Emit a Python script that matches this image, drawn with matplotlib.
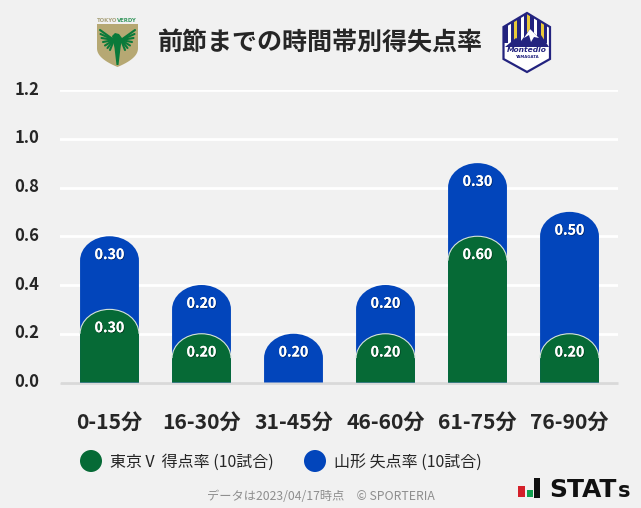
import numpy as np
import matplotlib
matplotlib.use('Agg')
from matplotlib import pyplot as plt
from matplotlib.path import Path
from matplotlib.patches import PathPatch, Polygon, Rectangle, Ellipse
import matplotlib.patheffects as pe

plt.rcParams['font.family'] = ['Noto Sans CJK JP', 'DejaVu Sans']

categories = ['0-15分', '16-30分', '31-45分', '46-60分', '61-75分', '76-90分']
scored = [0.30, 0.20, 0.00, 0.20, 0.60, 0.20]
conceded = [0.30, 0.20, 0.20, 0.20, 0.30, 0.50]
y_ticks = [0.0, 0.2, 0.4, 0.6, 0.8, 1.0, 1.2]
title = '前節までの時間帯別得失点率'
legend_labels = ['東京Ⅴ 得点率 (10試合)', '山形 失点率 (10試合)']
footer = 'データは2023/04/17時点　© SPORTERIA'

GREEN = '#066a36'
BLUE = '#0245bb'
BG = '#f1f1f1'
DARK = '#262626'

W, H = 641, 508
fig = plt.figure(figsize=(W / 100, H / 100), dpi=100, facecolor=BG)
ax = fig.add_axes([60 / W, 1 - 382.5 / H, 558 / W, 292.5 / H], facecolor=BG)
ax.set_xlim(-0.538, 5.527)
ax.set_ylim(0, 1.2)


def round_bar(x, top, color, edge=None, zorder=3):
    # bar with an elliptical cap, cap size in data units
    hw = 0.32
    cap = 0.1
    k = 0.5523
    verts = [(x - hw, 0), (x - hw, top - cap),
             (x - hw, top - cap + k * cap), (x - k * hw, top), (x, top),
             (x + k * hw, top), (x + hw, top - cap + k * cap), (x + hw, top - cap),
             (x + hw, 0), (x - hw, 0)]
    codes = [Path.MOVETO, Path.LINETO, Path.CURVE4, Path.CURVE4, Path.CURVE4,
             Path.CURVE4, Path.CURVE4, Path.CURVE4, Path.LINETO, Path.CLOSEPOLY]
    ax.add_patch(PathPatch(Path(verts, codes), fc=color, ec='none', zorder=zorder))
    if edge:
        ax.add_patch(PathPatch(Path(verts[1:8], codes[:1] + codes[2:8]), fc='none',
                               ec=edge, lw=0.8, zorder=zorder + 0.1))


shadow = [pe.withSimplePatchShadow(offset=(0.6, -0.6), shadow_rgbFace='#000000', alpha=0.45), pe.Normal()]
for i, (s, c) in enumerate(zip(scored, conceded)):
    round_bar(i, s + c, BLUE)
    ax.text(i, s + c - 0.077, f'{c:.2f}', color='white', fontsize=10.2, fontweight='bold',
            ha='center', va='center', zorder=6, path_effects=shadow)
    if s > 0:
        round_bar(i, s, GREEN, edge='#d5e3da', zorder=4)
        ax.text(i, s - 0.077, f'{s:.2f}', color='white', fontsize=10.2, fontweight='bold',
                ha='center', va='center', zorder=6, path_effects=shadow)

ax.set_yticks(y_ticks)
ax.set_yticklabels([])
ax.set_xticks(range(len(categories)))
ax.set_xticklabels(categories, fontsize=15.2, fontweight='bold', color=DARK)
ax.tick_params(axis='both', length=0)
ax.tick_params(axis='x', pad=21)
ax.grid(axis='y', color='white', lw=2, zorder=1)
ax.set_axisbelow(True)
for sp in ax.spines.values():
    sp.set_visible(False)
ax.axhline(0, color='#d9d9d9', lw=2, zorder=2, clip_on=False, solid_capstyle='butt')
# y labels sit left of the plot, slightly above their gridlines
for v in y_ticks:
    ax.annotate(f'{v:.1f}', (0, v), xycoords=ax.get_yaxis_transform(), xytext=(-33, 0.3),
                textcoords='offset points', fontsize=12, fontweight='bold', color=DARK,
                ha='left', va='center', annotation_clip=False)

# overlay in pixel coordinates for title, legend, logos
ov = fig.add_axes([0, 0, 1, 1], facecolor='none')
ov.set_xlim(0, W)
ov.set_ylim(H, 0)
ov.axis('off')

ov.text(320.5, 43.5, title, fontsize=18, fontweight='bold', color=DARK, ha='center', va='center')

# legend
ov.add_patch(Ellipse((91, 461), 22, 22, fc=GREEN, ec='none'))
ov.text(110, 462, legend_labels[0], fontsize=11.5, color=DARK, ha='left', va='center')
ov.add_patch(Ellipse((315, 461), 22, 22, fc=BLUE, ec='none'))
ov.text(334, 462, legend_labels[1], fontsize=11.5, color=DARK, ha='left', va='center')

ov.text(320.5, 497, footer, fontsize=8.8, color='#8e8e8e', ha='center', va='center')

# Verdy crest
EAGLE = '#0a7a3a'
ov.text(117, 20.5, 'TOKYO', fontsize=3.9, fontweight='bold', color='#a9a27c', ha='right', va='center', family='DejaVu Sans')
ov.text(117, 20.5, 'VERDY', fontsize=3.9, fontweight='bold', color='#3d9a63', ha='left', va='center', family='DejaVu Sans')
t = np.linspace(0, 1, 30)
right_side = [(138 - 20.5 * v ** 2.2, 48 + 19 * v) for v in t]
left_side = [(97 + 20.5 * v ** 2.2, 48 + 19 * v) for v in t[::-1]]
ov.add_patch(Polygon([(97, 24), (138, 24)] + right_side + left_side, fc='#b6a873', ec='none'))
# feathers fan out from the shoulders
feather_tips = [(17.5, 30), (17, 34), (16, 38), (14.5, 42), (12.5, 45.5), (10, 48), (7.5, 50)]
for dx, ty in feather_tips:
    for sgn in (-1, 1):
        ov.plot([117.5 + sgn * 3.5, 117.5 + sgn * dx], [40, ty], color=EAGLE, lw=1.5, solid_capstyle='round')
ov.add_patch(Polygon([(112, 36), (115, 33), (119, 34), (122, 38), (120.5, 48), (118.5, 65), (116.5, 65), (114.5, 48)], fc=EAGLE, ec='none'))

# Montedio crest
NAVY = '#23237f'
hexa = [(527, 13), (550, 27), (550, 59), (527, 72), (503.5, 59), (503.5, 27)]
hex_patch = Polygon(hexa, fc='white', ec='none', zorder=2)
ov.add_patch(hex_patch)
gap_colors = ['white', '#e8c93a', 'white', '#e8c93a', 'white', '#e8c93a', 'white']
for k, bx in enumerate(np.arange(504, 550, 6.6)):
    st = Rectangle((bx, 13), 3.6, 30, fc=NAVY, ec='none', zorder=3)
    ov.add_patch(st)
    st.set_clip_path(hex_patch)
    if k < len(gap_colors):
        gp = Rectangle((bx + 3.6, 13), 3, 30, fc=gap_colors[k], ec='none', zorder=3)
        ov.add_patch(gp)
        gp.set_clip_path(hex_patch)
ov.add_patch(Polygon([(505, 47), (516, 38), (521, 41), (530, 29), (537, 36), (541, 35), (549, 47)], fc=NAVY, ec='none', zorder=4))
ov.add_patch(Polygon([(530, 29), (524, 38), (529, 35), (531, 42), (534, 37), (539, 38)], fc='white', ec='none', zorder=5))
ov.add_patch(Polygon(hexa, fc='none', ec=NAVY, lw=1.6, joinstyle='miter', zorder=6))
ov.text(527, 50.5, 'Montedio', fontsize=5.4, fontstyle='italic', fontweight='bold', color=NAVY, ha='center', va='center', family='DejaVu Sans', zorder=7)
ov.text(527, 56.5, 'YAMAGATA', fontsize=2.8, fontweight='bold', color=NAVY, ha='center', va='center', family='DejaVu Sans', zorder=7)

# STATS logo
ov.add_patch(Rectangle((518, 486), 7, 11, fc='#d4202a', ec='none'))
ov.add_patch(Rectangle((526.5, 490), 6, 7, fc='#12a150', ec='none'))
ov.add_patch(Rectangle((534, 478), 5.5, 19.5, fc='#111111', ec='none'))
ov.text(549, 497, 'STAT', fontsize=18, fontweight='bold', color='#111111', ha='left', va='baseline', family='DejaVu Sans')
ov.text(617.5, 497, 's', fontsize=15, fontweight='bold', color='#111111', ha='left', va='baseline', family='DejaVu Sans')

fig.savefig('out.png', dpi=100, facecolor=BG)
